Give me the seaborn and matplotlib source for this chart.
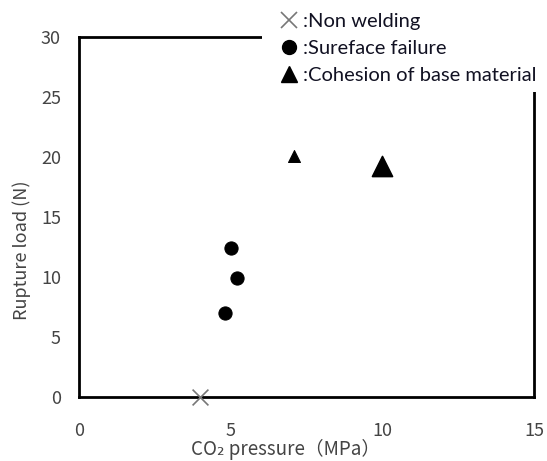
import matplotlib
matplotlib.use("Agg")
import matplotlib.pyplot as plt
from matplotlib.lines import Line2D
from matplotlib.patches import Rectangle
import pandas as pd
import seaborn as sns

# values
non_x = [4.0]
non_y = [0.0]
surf_x = [5.0, 5.2, 4.8]
surf_y = [12.4, 9.9, 7.0]
coh_x = [7.1, 10.0]
coh_y = [20.1, 19.25]
coh_size = [75, 210]

legend_labels = [":Non welding", ":Sureface failure", ":Cohesion of base material"]

sns.set_style("white")
plt.rcParams["font.family"] = ["Noto Sans CJK JP", "DejaVu Sans"]

fig = plt.figure(figsize=(5.47, 4.61), dpi=100)
ax = fig.add_axes([0.1444, 0.1388, 0.8318, 0.7809])

sns.scatterplot(x=non_x, y=non_y, marker="x", s=130, color="#777777",
                linewidth=1.2, ax=ax, zorder=3, clip_on=False)
sns.scatterplot(x=surf_x, y=surf_y, marker="o", s=90, color="black",
                edgecolor="black", ax=ax, zorder=3)
df_coh = pd.DataFrame({"x": coh_x, "y": coh_y, "s": coh_size})
for _, r in df_coh.iterrows():
    sns.scatterplot(x=[r["x"]], y=[r["y"]], marker="^", s=r["s"], color="black",
                    edgecolor="black", ax=ax, zorder=3)

ax.set_xlim(0, 15)
ax.set_ylim(0, 30)
ax.set_xticks([0, 5, 10, 15])
ax.set_yticks([0, 5, 10, 15, 20, 25, 30])

for sp in ax.spines.values():
    sp.set_color("black")
    sp.set_linewidth(2)

ax.tick_params(axis="both", direction="in", length=5, width=1, colors="black",
               labelcolor="#444444", labelsize=13)
ax.tick_params(axis="x", pad=18)
ax.tick_params(axis="y", pad=13)

ax.set_xlabel("CO₂ pressure（MPa）", fontsize=13.5, color="#444444", va="center")
ax.set_ylabel("Rupture load (N)", fontsize=13, color="#444444", va="center")
ax.xaxis.set_label_coords(0.453, -0.147)
ax.yaxis.set_label_coords(-0.125, 0.408)

# white box behind the legend hides the top of the frame
fig.patches.append(Rectangle((262 / 547, 1 - 92 / 461), 1, 1, transform=fig.transFigure,
                             facecolor="white", edgecolor="none", zorder=1))

handles = [
    Line2D([], [], marker="x", linestyle="none", color="#777777", markersize=11, markeredgewidth=1.2),
    Line2D([], [], marker="o", linestyle="none", color="black", markersize=10),
    Line2D([], [], marker="^", linestyle="none", color="black", markersize=11),
]
leg = fig.legend(handles, legend_labels, loc="upper left", bbox_to_anchor=(0.484, 1.003),
                 frameon=False, prop={"family": "Lato", "size": 14.5}, labelspacing=0.5,
                 handlelength=1.0, handletextpad=0.2, borderpad=0.2)
leg.set_zorder(2)
for t in leg.get_texts():
    t.set_color("#111122")

fig.savefig("out.png", dpi=100)
